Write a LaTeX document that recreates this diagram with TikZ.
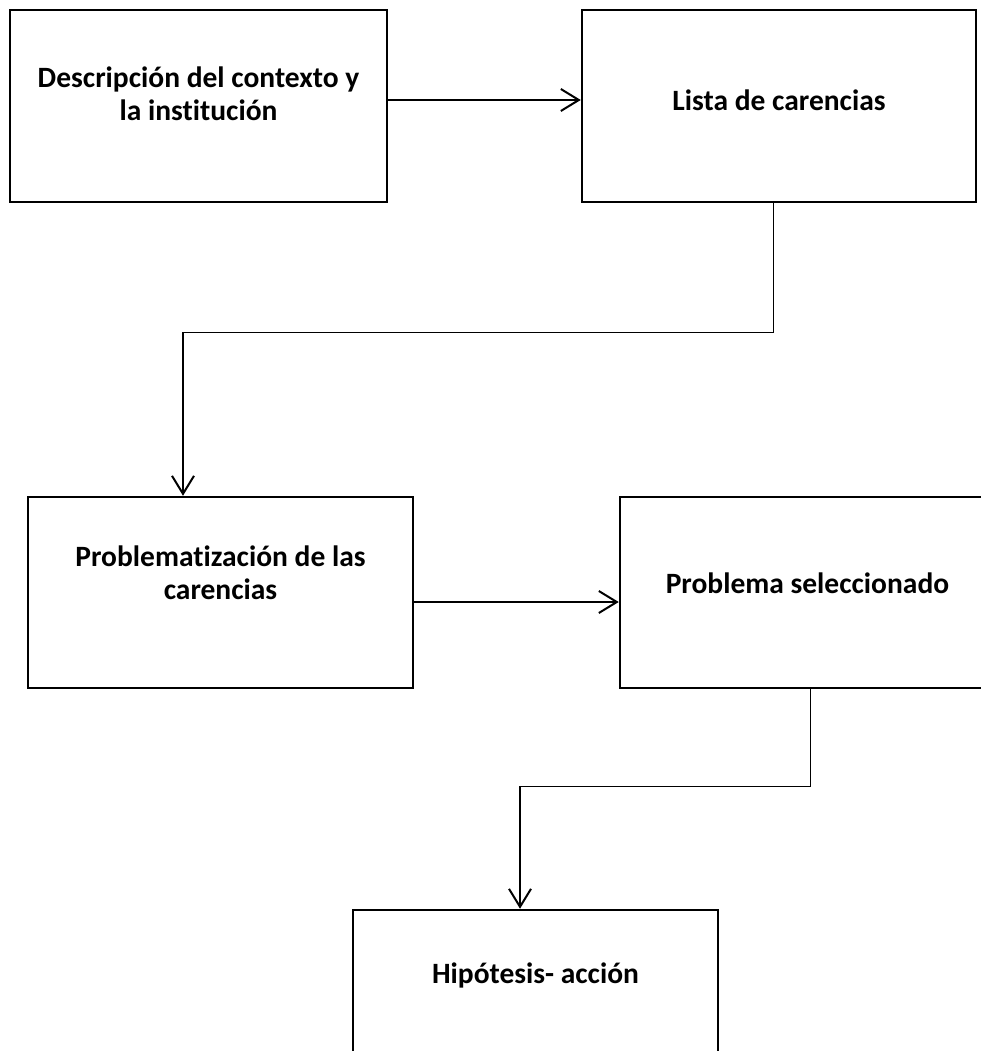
\documentclass[tikz,border=0pt]{standalone}
\usepackage{fontspec}
\setmainfont[Ligatures=NoCommon]{Carlito}
\usetikzlibrary{arrows.meta}
\tikzset{>={Straight Barb[length=18pt,width=22pt]}}

\begin{document}
\begin{tikzpicture}[x=1pt,y=-1pt,font=\fontsize{29.5}{33}\selectfont\bfseries]

\tikzstyle{caja}=[draw,line width=2.5pt,inner sep=0pt]
\tikzstyle{lab}=[align=center,inner sep=0pt]
\tikzstyle{flecha}=[->,line width=2pt]
\tikzstyle{fino}=[line width=1pt]

\clip (0,0) rectangle (981,1051);

% cajas
\node[caja,minimum width=377,minimum height=192] (desc) at (198.5,106) {};
\node[caja,minimum width=394,minimum height=192] (lista) at (779,106) {};
\node[caja,minimum width=385,minimum height=191] (probl) at (220.5,592.5) {};
\node[caja,minimum width=375,minimum height=191] (selec) at (807.5,592.5) {};
\node[caja,minimum width=365,minimum height=191] (hipo) at (535.5,1005.5) {};

% textos
\node[lab] (desc-t) at ([yshift=12pt]desc.center) {Descripción del contexto y\\la institución};
\node[lab] (lista-t) at ([yshift=6pt]lista.center) {Lista de carencias};
\node[lab] (probl-t) at ([yshift=20pt]probl.center) {Problematización de las\\carencias};
\node[lab] (selec-t) at ([yshift=9pt]selec.center) {Problema seleccionado};
\node[lab] (hipo-t) at ([yshift=30pt]hipo.center) {Hipótesis- acción};

% flechas
\draw[flecha] ([yshift=6pt]desc.east) -- ([yshift=6pt]lista.west);
\draw[flecha] ([yshift=-9.5pt]probl.east) -- ([yshift=-9.5pt]selec.west);

\coordinate (k1) at ([xshift=-37.5pt]probl.north |- 0,332);
\draw[fino] ([xshift=-6pt]lista.south) |- (k1);
\draw[flecha] (k1) -- ([xshift=-37.5pt]probl.north);

\coordinate (k2) at ([xshift=-15.5pt]hipo.north |- 0,786);
\draw[fino] ([xshift=2.5pt]selec.south) |- (k2);
\draw[flecha] (k2) -- ([xshift=-15.5pt]hipo.north);
\end{tikzpicture}
\end{document}
